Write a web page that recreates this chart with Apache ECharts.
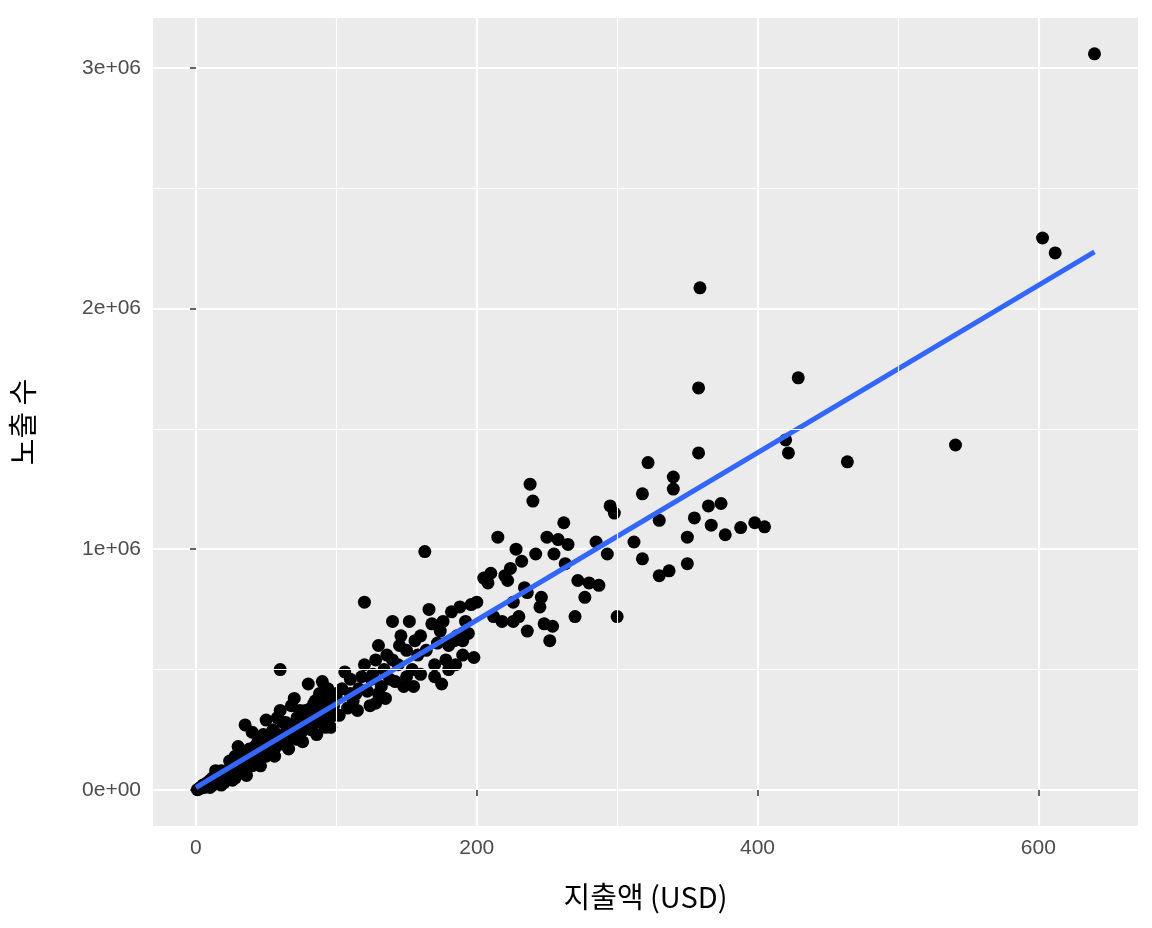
<!DOCTYPE html>
<html><head><meta charset="utf-8">
<script src="https://cdn.jsdelivr.net/npm/echarts@6/dist/echarts.min.js"></script>
<style>html,body{margin:0;background:#fff}#c{width:1152px;height:928px}</style>
</head><body><div id="c"></div>
<script>
// [spend USD, impressions]
const outliers = [[640,3058000],[603,2293000],[612,2231000],[359,2086000],[358,1670000],[358,1400000],[429,1712000],[541,1433000],[464,1363000],[420,1454000],[422,1400000]];
const highPoints = [[405,1093000],[398,1110000],[388,1090000],[377,1060000],[374,1190000],[365,1180000],[367,1100000],[355,1130000],[350,1050000],[340,1300000],[340,1250000],[322,1360000],[318,1230000],[330,1120000],[312,1030000],[318,960000],[330,890000],[337,910000],[350,940000],[295,1180000],[298,1150000],[300,720000],[287,850000],[293,980000],[285,1030000],[280,860000],[277,800000],[265,1020000],[262,1110000],[258,1040000],[255,980000],[250,1050000],[248,690000],[245,760000],[242,980000],[240,1200000],[238,1270000],[236,820000],[234,840000],[232,950000],[230,720000],[228,1000000],[226,780000],[224,920000],[222,870000],[220,890000],[218,700000],[215,1050000],[212,720000],[210,900000],[208,860000],[205,880000],[263,940000],[270,720000],[254,680000],[246,800000],[236,660000],[226,700000],[252,620000],[272,870000]];
const midPoints = [[200,780000],[198,550000],[196,770000],[194,650000],[192,700000],[190,560000],[188,760000],[186,640000],[184,620000],[182,740000],[180,600000],[178,540000],[176,700000],[174,660000],[172,610000],[170,520000],[168,690000],[166,750000],[164,580000],[163,990000],[160,480000],[158,560000],[156,620000],[154,500000],[152,700000],[150,580000],[148,430000],[146,640000],[144,520000],[142,450000],[140,700000],[138,460000],[136,560000],[134,500000],[132,430000],[130,400000],[128,540000],[126,480000],[124,350000],[122,410000],[120,780000],[118,470000],[116,420000],[114,400000],[112,370000],[110,460000],[108,340000],[106,490000],[104,420000],[102,310000],[100,380000],[150,470000],[145,600000],[135,380000],[125,460000],[115,330000],[170,470000],[180,500000],[190,620000],[160,640000],[140,540000],[130,600000],[120,520000],[110,400000],[128,360000],[155,430000],[175,440000],[185,520000]];
const lowPoints = [[98,350000],[96,340000],[94,420000],[92,300000],[90,360000],[88,290000],[86,330000],[84,300000],[82,250000],[80,310000],[78,330000],[76,280000],[74,230000],[72,300000],[70,270000],[68,260000],[66,240000],[64,230000],[62,190000],[60,500000],[60,200000],[58,230000],[56,170000],[54,210000],[52,190000],[50,140000],[50,200000],[48,160000],[46,170000],[44,120000],[42,150000],[40,100000],[40,130000],[38,110000],[36,90000],[34,100000],[32,80000],[30,70000],[30,90000],[28,50000],[26,60000],[24,70000],[22,40000],[20,30000],[20,60000],[18,20000],[16,40000],[14,30000],[12,20000],[10,10000],[10,40000],[8,20000],[6,10000],[4,8000],[2,3000],[1,1000],
 [95,380000],[85,370000],[75,300000],[65,250000],[55,180000],[45,150000],[35,130000],[25,100000],[15,60000],[5,20000],[92,260000],[82,340000],[72,210000],[62,280000],[52,220000],[42,180000],[32,110000],[22,80000],[12,50000],[3,10000],
 [98,310000],[88,400000],[78,260000],[68,350000],[58,300000],[48,230000],[38,170000],[28,140000],[18,80000],[8,30000],[90,450000],[80,440000],[70,380000],[60,330000],[50,290000],[40,240000],[30,180000],[35,270000],[45,210000],[55,250000],[65,200000],[75,240000],[85,280000],[95,300000],[100,400000],
 [26,40000],[36,60000],[46,100000],[56,140000],[66,170000],[76,200000],[86,230000],[96,260000],[14,80000],[24,120000],[34,150000],[44,200000],[54,240000],[64,280000],[74,330000],[84,360000],[94,380000]];
const lineX = [0, 640];
const lineY = [10000, 2235000];
const xTicks = [0,200,400,600];
const xMinor = [100,300,500];
const yTickVals = [0,1000000,2000000,3000000];
const yTicks = ['0e+00','1e+06','2e+06','3e+06'];
const yMinor = [500000,1500000,2500000];

const pts = outliers.concat(highPoints, midPoints, lowPoints);
const ch = echarts.init(document.getElementById('c'));
const lab = {color:'#4d4d4d',fontSize:21,fontFamily:'Liberation Sans, Noto Sans CJK KR'};
const minorLine = {color:'#fff',width:1.1,type:'solid'};
ch.setOption({
  animation:false,
  grid:{left:152,right:14,top:18,bottom:102,backgroundColor:'#EBEBEB',show:true,borderWidth:0},
  xAxis:{type:'value',min:-30.6,max:671,interval:200,
    name:'지출액 (USD)',nameLocation:'middle',nameGap:56,
    nameTextStyle:{fontSize:29,color:'#000',fontFamily:'Noto Sans CJK KR'},
    axisLine:{show:false},axisTick:{show:true,length:6,lineStyle:{color:'#333',width:1.5},customValues:xTicks},
    axisLabel:Object.assign({margin:12,customValues:xTicks,formatter:v=>String(v)},lab),
    splitLine:{show:true,lineStyle:{color:'#fff',width:2.2},customValues:xTicks}},
  yAxis:{type:'value',min:-150000,max:3207000,interval:1000000,
    name:'노출 수',nameLocation:'middle',nameGap:116,
    nameTextStyle:{fontSize:29,color:'#000',fontFamily:'Noto Sans CJK KR'},
    axisLine:{show:false},axisTick:{show:true,length:6,lineStyle:{color:'#333',width:1.5},customValues:yTickVals},
    axisLabel:Object.assign({margin:12,customValues:yTickVals,formatter:v=>yTicks[Math.round(v/1e6)]},lab),
    splitLine:{show:true,lineStyle:{color:'#fff',width:2.2},customValues:yTickVals}},
  series:[
    {type:'line',data:[],silent:true,
     markLine:{silent:true,symbol:'none',label:{show:false},lineStyle:minorLine,
       data:xMinor.map(v=>({xAxis:v})).concat(yMinor.map(v=>({yAxis:v})))}},
    {type:'scatter',data:pts,symbolSize:13,itemStyle:{color:'#000',opacity:1}},
    {type:'line',data:lineX.map((x,i)=>[x,lineY[i]]),symbol:'none',lineStyle:{color:'#3366FF',width:5}}
  ]
});
</script></body></html>
